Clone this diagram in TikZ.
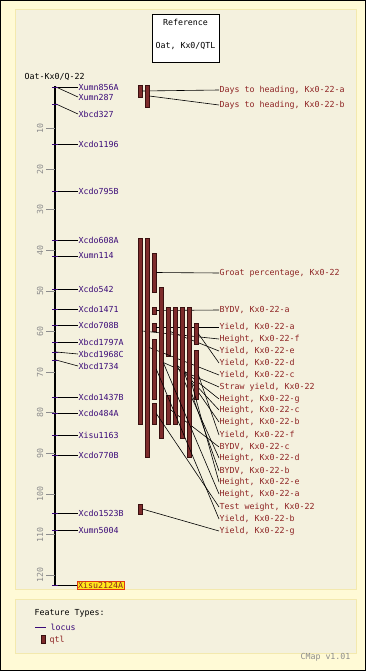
\documentclass[tikz,border=0pt]{standalone}
\usepackage{fontspec}
\setmonofont{DejaVu Sans Mono}
\usetikzlibrary{arrows.meta}

\definecolor{outerbg}{HTML}{FFFAD6}
\definecolor{panelbg}{HTML}{F4F1DE}
\definecolor{panelline}{HTML}{F3E9AE}
\definecolor{locuscol}{HTML}{3A0A78}
\definecolor{qtlfill}{HTML}{7E2C2C}
\definecolor{qtledge}{HTML}{3A1010}
\definecolor{qtltext}{HTML}{8E2424}
\definecolor{scalecol}{HTML}{8C8C8C}
\definecolor{hlfill}{HTML}{FFE81A}
\definecolor{hledge}{HTML}{E03A10}

\begin{document}
\begin{tikzpicture}[x=1pt, y=-1pt, font=\ttfamily\fontsize{8.3}{9}\selectfont,
  locus/.style={anchor=west, text=locuscol, inner sep=0.5pt},
  qtllab/.style={anchor=west, text=qtltext, inner sep=0.5pt},
  qtlbar/.style={draw=qtledge, fill=qtlfill, minimum width=4pt, inner sep=0pt, line width=0.5pt},
  link/.style={line width=0.6pt}]

\useasboundingbox (0,0) rectangle (366,671);
\fill[outerbg, draw=black, line width=1pt] (0.5,0.5) rectangle (365.5,670.5);
\draw[panelline, fill=panelbg, line width=1pt] (15,10) rectangle (356,589);
\draw[panelline, fill=panelbg, line width=1pt] (15,599) rectangle (356,653);

% reference box
\node[draw, fill=white, minimum width=67pt, minimum height=48pt, inner sep=0pt] (refbox) at (185.5,38) {};
\node (reftitle) at (185.5,22) {Reference};
\node (refname) at (185.5,46) {Oat, Kx0/QTL};

\node[anchor=west, inner sep=0.5pt] (mapname) at (24,77) {Oat-Kx0/Q-22};

% chromosome and scale
\draw[line width=2pt] (55,86) -- (55,585);
\foreach \cm in {10,20,...,120}{
  \draw[scalecol, line width=0.7pt] (46,{88+4.06*\cm}) -- (55,{88+4.06*\cm});
  \node[rotate=90, text=scalecol, inner sep=0pt] (sc\cm) at (40,{88+4.06*\cm}) {\cm};
}

% loci
\foreach \n/\t/\l in {Xumn856A/87/87, Xumn287/87/97, Xbcd327/104/114, Xcdo1196/144/144,
    Xcdo795B/191/191, Xcdo608A/240/240, Xumn114/256/256, Xcdo542/289/289,
    Xcdo1471/309/309, Xcdo708B/325/325, Xbcd1797A/342/342, Xbcd1968C/352/354,
    Xbcd1734/360/366, Xcdo1437B/397/397, Xcdo484A/413/413, Xisu1163/435/435,
    Xcdo770B/455/455, Xcdo1523B/513/513, Xumn5004/530/530}{
  \coordinate (t-\n) at (56,\t);
  \node[locus] (l-\n) at (78,\l) {\n};
  \draw[link] (t-\n) -- (l-\n.west);
  \draw[locuscol, line width=0.8pt] (52,\t) -- (58,\t);
}
\coordinate (t-Xisu2124A) at (56,585);
\node[locus, fill=hlfill, draw=hledge, text=qtltext, inner sep=1pt] (l-Xisu2124A) at (77,585) {Xisu2124A};
\draw[link] (t-Xisu2124A) -- (l-Xisu2124A.west);
\draw[locuscol, line width=0.8pt] (52,585) -- (58,585);

% qtl bars and their labels
\foreach \n/\x/\a/\b/\ly/\txt in {
    dtha/140/85/97/90/{Days to heading, Kx0-22-a},
    dthb/147/85/107/105/{Days to heading, Kx0-22-b},
    groat/154/253/292/273/{Groat percentage, Kx0-22},
    bydva/154/307/314/310/{BYDV, Kx0-22-a},
    yielda/154/323/331/327/{Yield, Kx0-22-a},
    heightf/140/238/424/339/{Height, Kx0-22-f},
    yielde/168/307/356/351/{Yield, Kx0-22-e},
    yieldd/196/323/344/363/{Yield, Kx0-22-d},
    yieldc/147/238/457/375/{Yield, Kx0-22-c},
    strawyield/161/287/438/387/{Straw yield, Kx0-22},
    heightg/175/307/424/399/{Height, Kx0-22-g},
    heightc/182/307/438/410/{Height, Kx0-22-c},
    heightb/189/307/457/422/{Height, Kx0-22-b},
    yieldf/196/350/399/435/{Yield, Kx0-22-f},
    bydvc/168/395/424/447/{BYDV, Kx0-22-c},
    heightd/175/307/424/458/{Height, Kx0-22-d},
    bydvb/182/307/438/471/{BYDV, Kx0-22-b},
    heighte/189/307/457/482/{Height, Kx0-22-e},
    heighta/161/287/438/494/{Height, Kx0-22-a},
    testweight/154/403/424/507/{Test weight, Kx0-22},
    yieldb/154/339/399/519/{Yield, Kx0-22-b},
    yieldg/140/504/514/531/{Yield, Kx0-22-g}}{
  \node[qtlbar, minimum height={(\b-\a)*1pt}] (q-\n) at (\x,{(\a+\b)/2}) {};
  \node[qtllab] (ql-\n) at (219,\ly) {\txt};
  \draw[link] (q-\n.east) -- (ql-\n.west);
}

% legend
\node[anchor=west, inner sep=0.5pt] (legtitle) at (34,613) {Feature Types:};
\coordinate (leglocusA) at (35,627);
\coordinate (leglocusB) at (46,627);
\draw[locuscol, line width=0.8pt] (leglocusA) -- (leglocusB);
\node[locus] (leglocus) at (50,627) {locus};
\node[qtlbar, minimum height=8pt] (legqtl) at (43.5,639) {};
\node[qtllab] (legqtllab) at (49,640) {qtl};

\node[text=scalecol, inner sep=0pt] (version) at (325.5,657) {CMap v1.01};
\end{tikzpicture}
\end{document}
